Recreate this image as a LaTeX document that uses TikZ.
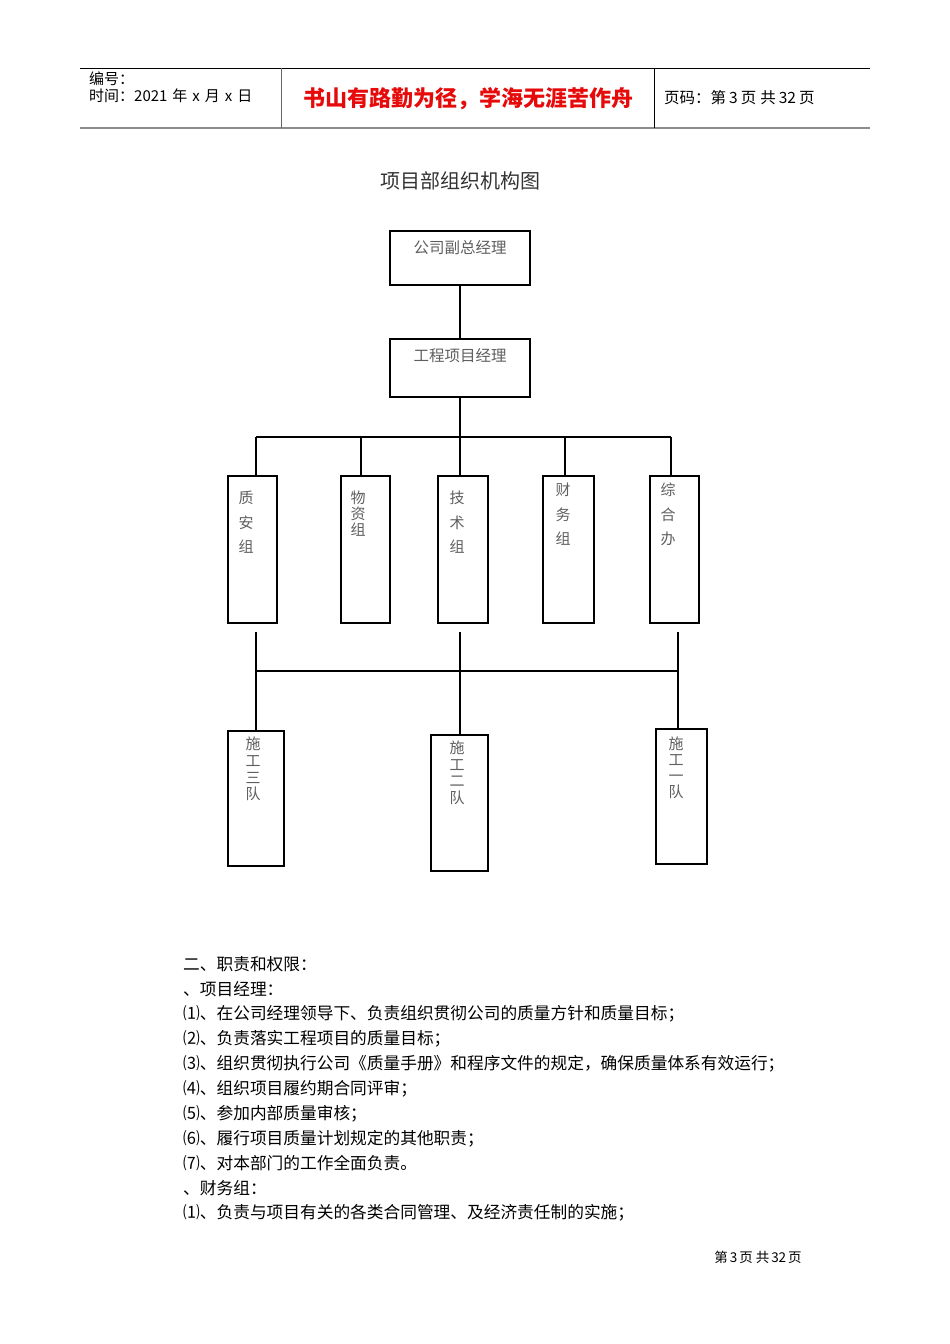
\documentclass[tikz,border=0pt]{standalone}
\usepackage{fontspec}
\setmainfont{Noto Sans CJK SC}
\definecolor{mottored}{RGB}{230,10,10}
\definecolor{boxgray}{RGB}{95,95,95}

\begin{document}
\begin{tikzpicture}[x=1pt, y=-1pt,
  box/.style={draw, line width=1.2pt, inner sep=0pt},
  boxtext/.style={text=boxgray, inner sep=0pt, font=\fontsize{15.5}{16}\selectfont},
  vtext/.style={anchor=north, align=center, inner sep=0pt, text=boxgray},
  head/.style={anchor=west, inner sep=0pt, font=\fontsize{15}{16}\selectfont},
  body/.style={anchor=west, inner sep=0pt, font=\fontsize{16.7}{18}\selectfont}]

\useasboundingbox[fill=white] (0,0) rectangle (950,1344);

% header table
\draw[line width=0.8pt] (80,68) -- (870,68);
\draw[line width=2.5pt, black!45] (80,128) -- (870,128);
\draw[line width=0.8pt, black!60] (281,68) -- (281,128);
\draw[line width=0.8pt] (654,68) -- (654,128);
\node[head] (bianhao) at (89,79) {编号：};
\node[head] (shijian) at (89,96) {时间：2021\hspace{5pt}年\hspace{5pt}x\hspace{5pt}月\hspace{5pt}x\hspace{5pt}日};
\node[inner sep=0pt, text=mottored, font=\fontsize{22}{24}\selectfont\bfseries] (motto) at (468,99) {书山有路勤为径，学海无涯苦作舟};
\node[head, font=\fontsize{15.5}{16}\selectfont] (yema) at (664,98) {页码：第\hspace{3pt}3\hspace{3pt}页\hspace{4pt}共\hspace{3pt}32\hspace{3pt}页};

% title
\node[inner sep=0pt, text=black!80, font=\fontsize{20}{22}\selectfont] (title) at (460,181) {项目部组织机构图};

% top of the tree
\node[box, minimum width=140, minimum height=54] (fuzong) at (460,258) {};
\node[boxtext] (fuzong-t) at (460,248) {公司副总经理};
\node[box, minimum width=140, minimum height=58] (xmjl) at (460,368) {};
\node[boxtext] (xmjl-t) at (460,356) {工程项目经理};
\draw[line width=1.2pt] (fuzong) -- (xmjl);

\coordinate (bus) at (460,437);
\coordinate (bus-l) at (256,437);
\coordinate (bus-r) at (671,437);
\draw[line width=1.2pt] (xmjl) -- (bus);
\draw[line width=1.2pt] (bus-l) -- (bus-r);

% the five groups
\foreach \n/\cx/\w/\lx/\tx/\ty/\gap/\t in {%
    zhian/252.5/49/256/246/491/24.5/{质\\安\\组},%
    wuzi/365.5/49/361/358/491/16/{物\\资\\组},%
    jishu/463/50/460/457/491/24.5/{技\\术\\组},%
    caiwu/568.5/51/565/563/483/24.5/{财\\务\\组},%
    zonghe/674.5/49/671/668/483/24.5/{综\\合\\办}}{%
  \node[box, minimum width=\w, minimum height=147] (\n) at (\cx,549.5) {};
  \node[vtext, font=\fontsize{15}{\gap}\selectfont] (\n-t) at (\tx,\ty) {\t};
  \coordinate (\n-top) at (\lx,437);
  \draw[line width=1.2pt] (\n-top) -- (\n-top |- \n.north);
}

% the three work teams
\coordinate (bus2-l) at (256,671);
\coordinate (bus2-r) at (678,671);
\draw[line width=1.2pt] (bus2-l) -- (bus2-r);
\foreach \n/\cx/\cy/\w/\h/\lx/\tx/\ty/\gap/\t in {%
    dui3/256/798.5/56/135/256/253/737/16.7/{施\\工\\三\\队},%
    dui2/459.5/803/57/136/460/457/741/16.4/{施\\工\\二\\队},%
    dui1/681.5/796.5/51/135/678/676/737/16/{施\\工\\一\\队}}{%
  \node[box, minimum width=\w, minimum height=\h] (\n) at (\cx,\cy) {};
  \node[vtext, font=\fontsize{15}{\gap}\selectfont] (\n-t) at (\tx,\ty) {\t};
  \coordinate (\n-top) at (\lx,632);
  \draw[line width=1.2pt] (\n-top) -- (\n-top |- \n.north);
}

% duties text
\foreach \t [count=\i from 0] in {%
    {二、职责和权限：},
    {、项目经理：},
    {⑴、在公司经理领导下、负责组织贯彻公司的质量方针和质量目标；},
    {⑵、负责落实工程项目的质量目标；},
    {⑶、组织贯彻执行公司《质量手册》和程序文件的规定，确保质量体系有效运行；},
    {⑷、组织项目履约期合同评审；},
    {⑸、参加内部质量审核；},
    {⑹、履行项目质量计划规定的其他职责；},
    {⑺、对本部门的工作全面负责。},
    {、财务组：},
    {⑴、负责与项目有关的各类合同管理、及经济责任制的实施；}}{%
  \node[body] (line\i) at (183,964+24.9*\i) {\t};
}

% footer
\node[inner sep=0pt, font=\fontsize{13.5}{14}\selectfont] (footer) at (758,1257) {第\hspace{2pt}3\hspace{2pt}页\hspace{3pt}共\hspace{2pt}32\hspace{2pt}页};

\end{tikzpicture}
\end{document}
